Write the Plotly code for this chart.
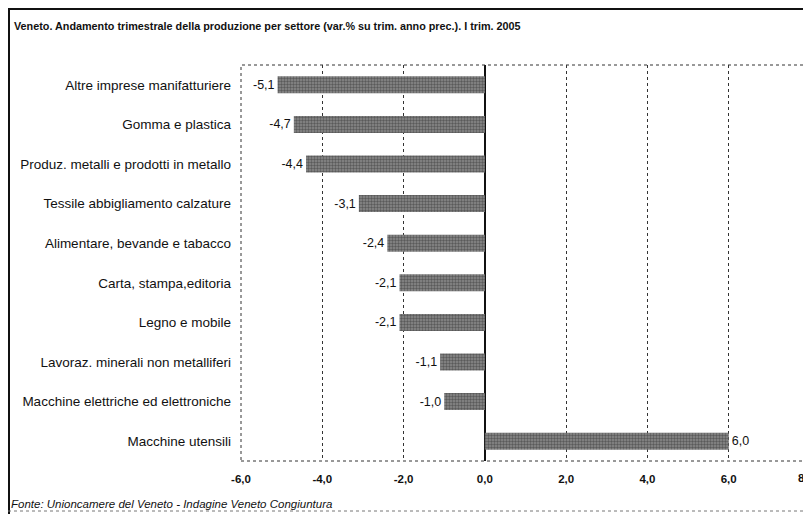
import plotly.graph_objects as go

categories = [
    "Altre imprese manifatturiere",
    "Gomma e plastica",
    "Produz. metalli e prodotti in metallo",
    "Tessile abbigliamento calzature",
    "Alimentare, bevande e tabacco",
    "Carta, stampa,editoria",
    "Legno e mobile",
    "Lavoraz. minerali non metalliferi",
    "Macchine elettriche ed elettroniche",
    "Macchine utensili",
]
values = [-5.1, -4.7, -4.4, -3.1, -2.4, -2.1, -2.1, -1.1, -1.0, 6.0]
tick_vals = [-6, -4, -2, 0, 2, 4, 6, 8]
# last label is cut by the chart edge in the original
tick_labels = ["-6,0", "-4,0", "-2,0", "0,0", "2,0", "4,0", "6,0", "8,"]

title = "Veneto. Andamento trimestrale della produzione per settore (var.% su trim. anno prec.). I trim. 2005"
source = "Fonte: Unioncamere del Veneto - Indagine Veneto Congiuntura"

# page body has an 8px margin, so the figure is sized to fit the window
OFF = 8
W, H = 811 - OFF, 514 - OFF
L, R, T, B = 233, 1, 57, 53
pw, ph = W - L - R, H - T - B

def px(x):
    return (x - L) / pw

def py(y):
    return 1 - (y - T) / ph

tick_font = dict(family="Liberation Sans, Arial", size=11.5, color="#111", weight="bold")

fig = go.Figure(go.Bar(
    x=values, y=categories, orientation="h", width=0.43,
    marker=dict(color="#6a6a6a", line=dict(width=0),
                pattern=dict(shape=".", fgcolor="#2a2a2a", bgcolor="#8a8a8a", size=3, solidity=0.5)),
    texttemplate="%{x:.1f}", textposition="outside",
    textfont=dict(family="Liberation Sans, Arial", size=12.5, color="#111"),
    cliponaxis=False,
))

fig.update_layout(
    width=W, height=H, margin=dict(l=L, r=R, t=T, b=B),
    paper_bgcolor="white", plot_bgcolor="white",
    separators=",.", showlegend=False,
    font=dict(family="Liberation Sans, Arial", size=12, color="#111"),
    xaxis=dict(range=[-6, 8], tickvals=tick_vals[:-1], ticktext=tick_labels[:-1],
               showgrid=True, gridcolor="#333", griddash="dot", gridwidth=1,
               zeroline=True, zerolinecolor="#111", zerolinewidth=1.5,
               showline=False, ticks="", ticklabelstandoff=9,
               tickfont=tick_font),
    yaxis=dict(autorange="reversed", showgrid=False, zeroline=False, ticks="",
               ticklabelstandoff=9,
               tickfont=dict(family="Liberation Sans, Arial", size=13.5, color="#111")),
    shapes=[
        dict(type="rect", xref="paper", yref="paper", x0=0, x1=1, y0=0, y1=1,
             line=dict(color="#333", width=1, dash="dot"), layer="above"),
        dict(type="line", xref="paper", yref="paper", x0=px(0), x1=px(W), y0=py(1), y1=py(1),
             line=dict(color="#111", width=2)),
        dict(type="line", xref="paper", yref="paper", x0=px(1), x1=px(1), y0=py(0), y1=py(H),
             line=dict(color="#111", width=2)),
        dict(type="line", xref="paper", yref="paper", x0=px(0), x1=px(W), y0=py(H - 3), y1=py(H - 3),
             line=dict(color="#777", width=1, dash="dot")),
    ],
    annotations=[
        dict(text=title, xref="paper", yref="paper", x=px(4), y=py(18), xanchor="left", yanchor="middle",
             showarrow=False, font=dict(family="Liberation Sans, Arial", size=10.8, color="#111", weight="bold")),
        dict(text=source, xref="paper", yref="paper", x=px(1), y=py(496), xanchor="left", yanchor="middle",
             showarrow=False, font=dict(family="Liberation Sans, Arial", size=11.5, color="#111", style="italic")),
        # edge tick label, kept inside the page like in the original
        dict(text=tick_labels[-1], xref="x", yref="paper", x=tick_vals[-1], y=py(H - B + 17),
             xanchor="right", yanchor="middle", showarrow=False, font=tick_font),
    ],
)

fig.write_html("out.html")
